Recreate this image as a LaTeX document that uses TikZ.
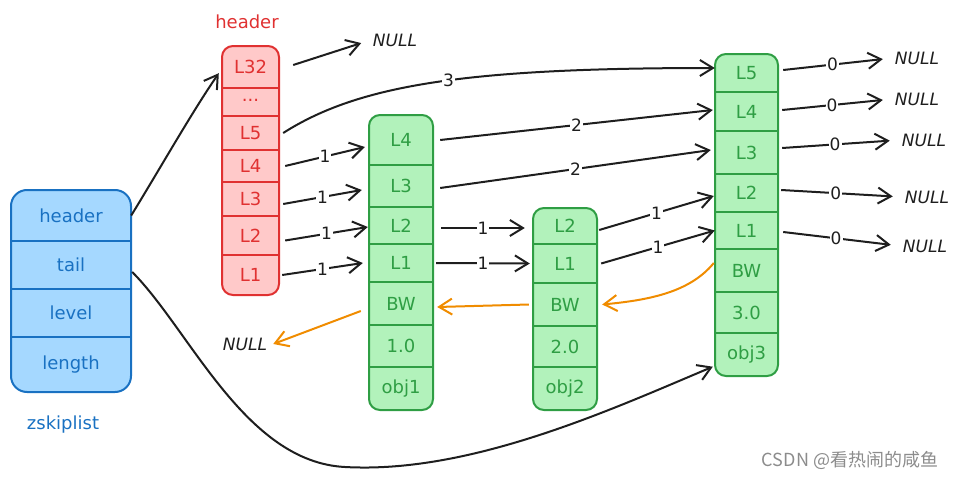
\documentclass[tikz,border=0pt]{standalone}
\usepackage{fontspec}
\setmainfont{DejaVu Sans}
\newfontfamily\cjkfont{Noto Sans CJK SC}
\usetikzlibrary{arrows.meta}
\definecolor{ink}{HTML}{1E1E1E}
\definecolor{rline}{HTML}{E03131}
\definecolor{rfill}{HTML}{FFC9C9}
\definecolor{gline}{HTML}{2F9E44}
\definecolor{gfill}{HTML}{B2F2BB}
\definecolor{bline}{HTML}{1971C2}
\definecolor{bfill}{HTML}{A5D8FF}
\definecolor{oline}{HTML}{F08C00}
\definecolor{wmark}{HTML}{8C8C8C}
\begin{document}
\begin{tikzpicture}[x=1pt,y=-1pt,
  tip/.tip={Straight Barb[length=13pt,width=16pt]},
  celltext/.style={font=\fontsize{18}{20}\selectfont, inner sep=0pt, minimum height=20pt},
  rcell/.style={celltext, text=rline, minimum width=57pt},
  gcellA/.style={celltext, text=gline, minimum width=64pt},
  gcellC/.style={celltext, text=gline, minimum width=63pt},
  bcell/.style={celltext, text=bline, minimum width=120pt},
  rbox/.style={draw=rline, fill=rfill, line width=2pt, rounded corners=11pt},
  gbox/.style={draw=gline, fill=gfill, line width=2pt, rounded corners=11pt},
  bbox/.style={draw=bline, fill=bfill, line width=2pt, rounded corners=16pt},
  rdiv/.style={draw=rline, line width=2pt},
  gdiv/.style={draw=gline, line width=2pt},
  bdiv/.style={draw=bline, line width=2pt},
  nulltext/.style={font=\fontsize{17}{19}\selectfont\itshape, text=ink, inner sep=2pt},
  arr/.style={draw=ink, line width=2pt, -tip},
  oarr/.style={draw=oline, line width=2pt, -tip},
  elab/.style={fill=white, inner sep=1pt, text=ink, font=\fontsize{17}{19}\selectfont},
  toplabel/.style={font=\fontsize{18}{20}\selectfont, inner sep=0pt}
]
\useasboundingbox (0,0) rectangle (961,479);

% ---------- zskiplist (blue) ----------
\draw[bbox] (11,190) rectangle (131,392);
\draw[bdiv] (11,241) -- (131,241);
\draw[bdiv] (11,289) -- (131,289);
\draw[bdiv] (11,337) -- (131,337);
\node[bcell] (zh) at (71,215.5) {header};
\node[bcell] (zt) at (71,265) {tail};
\node[bcell] (zl) at (71,313) {level};
\node[bcell] (zn) at (71,364.5) {length};
\node[toplabel, text=bline] (zlab) at (63,425) {zskiplist};

% ---------- header (red) ----------
\node[toplabel, text=rline] (hlab) at (247,22) {header};
\draw[rbox] (222,46) rectangle (279,295);
\foreach \yy in {88,116,150,182,216,255} \draw[rdiv] (222,\yy) -- (279,\yy);
\node[rcell] (h32) at (250.5,67) {L32};
\node[rcell] (hd) at (250.5,100) {...};
\node[rcell] (h5) at (250.5,133) {L5};
\node[rcell] (h4) at (250.5,166) {L4};
\node[rcell] (h3) at (250.5,199) {L3};
\node[rcell] (h2) at (250.5,235.5) {L2};
\node[rcell] (h1) at (250.5,275) {L1};

% ---------- node 1 ----------
\draw[gbox] (369,115) rectangle (433,410);
\foreach \yy in {165,207,244,282,325,367} \draw[gdiv] (369,\yy) -- (433,\yy);
\node[gcellA] (a4) at (401,140) {L4};
\node[gcellA] (a3) at (401,186) {L3};
\node[gcellA] (a2) at (401,225.5) {L2};
\node[gcellA] (a1) at (401,263) {L1};
\node[gcellA] (abw) at (401,303.5) {BW};
\node[gcellA] (asc) at (401,346) {1.0};
\node[gcellA] (aob) at (401,388.5) {obj1};

% ---------- node 2 ----------
\draw[gbox] (533,208) rectangle (597,410);
\foreach \yy in {244,283,326,367} \draw[gdiv] (533,\yy) -- (597,\yy);
\node[gcellA] (b2) at (565,226) {L2};
\node[gcellA] (b1) at (565,263.5) {L1};
\node[gcellA] (bbw) at (565,304.5) {BW};
\node[gcellA] (bsc) at (565,346.5) {2.0};
\node[gcellA] (bob) at (565,388.5) {obj2};

% ---------- node 3 ----------
\draw[gbox] (715,54) rectangle (778,376);
\foreach \yy in {92,131,174,212,249,292,333} \draw[gdiv] (715,\yy) -- (778,\yy);
\node[gcellC] (c5) at (746.5,73) {L5};
\node[gcellC] (c4) at (746.5,111.5) {L4};
\node[gcellC] (c3) at (746.5,152.5) {L3};
\node[gcellC] (c2) at (746.5,193) {L2};
\node[gcellC] (c1) at (746.5,230.5) {L1};
\node[gcellC] (cbw) at (746.5,270.5) {BW};
\node[gcellC] (csc) at (746.5,312.5) {3.0};
\node[gcellC] (cob) at (746.5,354.5) {obj3};

% ---------- NULL texts ----------
\node[nulltext] (n0) at (395,40) {NULL};
\node[nulltext] (n5) at (917,58) {NULL};
\node[nulltext] (n4) at (917,99) {NULL};
\node[nulltext] (n3) at (924,140) {NULL};
\node[nulltext] (n2) at (927,197) {NULL};
\node[nulltext] (n1) at (925,246) {NULL};
\node[nulltext] (nb) at (245,344) {NULL};

% ---------- zskiplist pointers ----------
\draw[arr] (zh.east) .. controls (158,172) and (192,112) .. ([xshift=-3pt,yshift=4pt]h32.south west);
\draw[arr] ([shift={(1pt,-7pt)}]zt.east) .. controls (190,330) and (245,462) .. (345,467)
  .. controls (470,474) and (610,410) .. ([shift={(-2pt,-2pt)}]cob.south west);

% ---------- header forward pointers ----------
\draw[arr, shorten >=10pt] ([shift={(14pt,2pt)}]h32.east) -- (n0.west);
\draw[arr] ([xshift=4pt]h5.east) .. controls (360,84) and (470,68) .. ([yshift=5pt]c5.west)
  node[elab, pos=0.53] {3};
\draw[arr] ([xshift=6pt]h4.east) -- ([shift={(-4pt,-7pt)}]a4.west) node[elab, midway] {1};
\draw[arr] ([shift={(4pt,-5pt)}]h3.east) -- ([shift={(-7pt,-4pt)}]a3.west) node[elab, midway] {1};
\draw[arr] ([shift={(6pt,-5pt)}]h2.east) -- ([shift={(-1pt,-1.5pt)}]a2.west) node[elab, midway] {1};
\draw[arr] ([xshift=3pt]h1.east) -- ([xshift=-6pt]a1.west) node[elab, midway] {1};

% ---------- node 1 forward ----------
\draw[arr] ([shift={(7pt,0pt)}]a4.east) -- ([shift={(-2pt,1.5pt)}]c4.west) node[elab, midway] {2};
\draw[arr] ([shift={(7pt,-2pt)}]a3.east) -- ([shift={(-4pt,2.5pt)}]c3.west) node[elab, midway] {2};
\draw[arr] ([shift={(8pt,-2.5pt)}]a2.east) -- ([shift={(-8pt,-2pt)}]b2.west) node[elab, midway] {1};
\draw[arr] ([xshift=3pt]a1.east) -- ([xshift=-3pt]b1.west) node[elab, midway] {1};

% ---------- node 2 forward ----------
\draw[arr] ([shift={(2pt,-4pt)}]b2.east) -- ([shift={(-1pt,-3pt)}]c2.west) node[elab, midway] {1};
\draw[arr] ([xshift=4pt]b1.east) -- (c1.west) node[elab, midway] {1};

% ---------- node 3 forward to NULL ----------
\draw[arr, shorten >=10pt] ([shift={(5pt,3pt)}]c5.east) -- (n5.west) node[elab, pos=0.45] {0};
\draw[arr, shorten >=10pt] ([shift={(4pt,1.5pt)}]c4.east) -- (n4.west) node[elab, pos=0.45] {0};
\draw[arr, shorten >=10pt] ([shift={(4pt,4.5pt)}]c3.east) -- (n3.west) node[elab, pos=0.45] {0};
\draw[arr, shorten >=10pt] ([shift={(3pt,3pt)}]c2.east) -- (n2.west) node[elab, pos=0.45] {0};
\draw[arr, shorten >=10pt] ([shift={(5pt,-1.5pt)}]c1.east) -- (n1.west) node[elab, pos=0.45] {0};

% ---------- backward pointers (orange) ----------
\draw[oarr] ([shift={(-1pt,7.5pt)}]cbw.west) .. controls (690,292) and (650,300) .. ([xshift=5pt]bbw.east);
\draw[oarr] ([xshift=-4pt]bbw.west) -- ([shift={(4pt,-3.5pt)}]abw.east);
\draw[oarr] ([shift={(-8pt,-7.5pt)}]abw.west) -- ([xshift=4pt]nb.east);

% ---------- watermark ----------
\node[font=\cjkfont\fontsize{18}{20}\selectfont, text=wmark, inner sep=0pt] (wm) at (850,460) {CSDN @看热闹的咸鱼};
\end{tikzpicture}
\end{document}
